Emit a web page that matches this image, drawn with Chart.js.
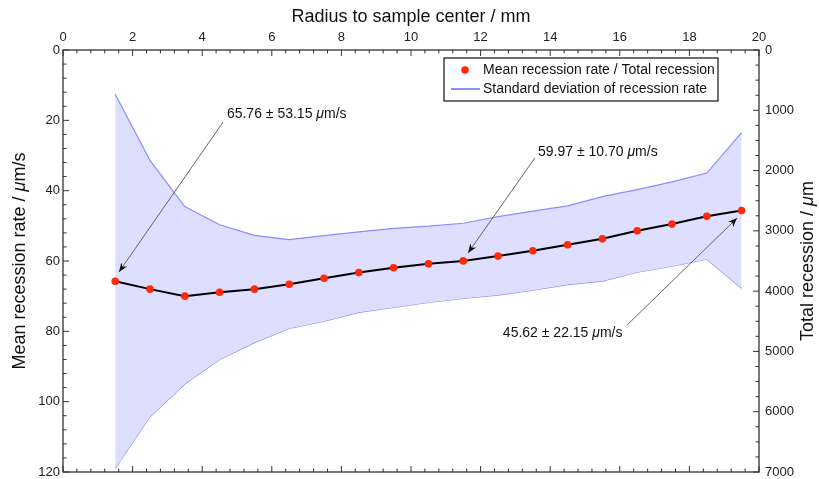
<!DOCTYPE html>
<html>
<head>
<meta charset="utf-8">
<script src="https://cdn.jsdelivr.net/npm/chart.js@4.4.1/dist/chart.umd.min.js"></script>
<style>
  html, body { margin: 0; padding: 0; background: #fff; }
  #wrap { width: 819px; height: 479px; }
</style>
</head>
<body>
<div id="wrap"><canvas id="chart" width="819" height="479"></canvas></div>
<script>
// radius to sample center (mm)
const radius = [1.5, 2.5, 3.5, 4.5, 5.5, 6.5, 7.5, 8.5, 9.5, 10.5, 11.5, 12.5, 13.5, 14.5, 15.5, 16.5, 17.5, 18.5, 19.5];
// mean recession rate (um/s)
const meanRate = [65.76, 68.0, 70.0, 68.9, 68.0, 66.6, 64.9, 63.3, 61.9, 60.8, 59.97, 58.6, 57.1, 55.4, 53.7, 51.4, 49.5, 47.3, 45.62];
// mean - sd and mean + sd
const sdUpper = [12.61, 31.4, 44.5, 49.7, 52.7, 53.9, 52.8, 51.7, 50.7, 50.1, 49.27, 47.4, 45.8, 44.3, 41.7, 39.7, 37.5, 35.0, 23.47];
const sdLower = [118.91, 104.3, 95.0, 88.0, 83.2, 79.2, 77.1, 74.6, 73.2, 71.8, 70.67, 69.7, 68.3, 66.7, 65.7, 63.2, 61.5, 59.5, 67.77];

// annotated points
const noteMean = [65.76, 59.97, 45.62];
const noteSd = [53.15, 10.70, 22.15];

const legendLabels = ["Mean recession rate / Total recession", "Standard deviation of recession rate"];

// annotation placement, in data units (x mm, y um/s)
const noteTextAt = [[4.71, 18.2], [13.65, 29.0], [12.64, 80.5]];
const noteLineFrom = [[4.60, 20.5], [13.56, 30.7], [16.21, 78.2]];
const noteTip = [[1.61, 63.1], [11.64, 57.7], [19.37, 47.8]];

const FONT = "'Liberation Sans', Arial, Helvetica, sans-serif";
const RED = "#ff2a0a";
const BAND_LINE = "#8c8cff";
const BAND_FILL = "rgba(222, 222, 255, 1)";
const AXIS = "#333";

Chart.defaults.font.family = FONT;

function isMajor(v, step) {
  return Math.abs(v / step - Math.round(v / step)) < 1e-6;
}

// draw text made of [text, italic] parts, starting at x
function drawParts(ctx, parts, x, y, size, align) {
  const fontFor = (it) => `${it ? "italic " : ""}${size}px ${FONT}`;
  let total = 0;
  parts.forEach(([t, it]) => {
    ctx.font = fontFor(it);
    total += ctx.measureText(t).width;
  });
  let cx = align === "center" ? x - total / 2 : x;
  ctx.textAlign = "left";
  parts.forEach(([t, it]) => {
    ctx.font = fontFor(it);
    ctx.fillText(t, cx, y);
    cx += ctx.measureText(t).width;
  });
}

function drawArrowHead(ctx, fx, fy, tx, ty) {
  const ang = Math.atan2(ty - fy, tx - fx);
  const len = 9, half = 3.6;
  ctx.save();
  ctx.translate(tx, ty);
  ctx.rotate(ang);
  ctx.beginPath();
  ctx.moveTo(0, 0);
  ctx.lineTo(-len, -half);
  ctx.lineTo(-len * 0.7, 0);
  ctx.lineTo(-len, half);
  ctx.closePath();
  ctx.fillStyle = "#111";
  ctx.fill();
  ctx.restore();
}

const axisChrome = {
  id: "axisChrome",
  afterDatasetsDraw(chart) {
    const { ctx, chartArea: a, scales } = chart;
    const x = scales.x, y = scales.y, y2 = scales.y2;
    ctx.save();

    // frame
    ctx.strokeStyle = AXIS;
    ctx.lineWidth = 1.3;
    ctx.strokeRect(a.left, a.top, a.right - a.left, a.bottom - a.top);

    // inward tick marks
    ctx.lineWidth = 1;
    ctx.beginPath();
    x.ticks.forEach((t) => {
      const px = x.getPixelForValue(t.value);
      const len = isMajor(t.value, 2) ? 6 : 3.5;
      ctx.moveTo(px, a.top); ctx.lineTo(px, a.top + len);
      ctx.moveTo(px, a.bottom); ctx.lineTo(px, a.bottom - len);
    });
    y.ticks.forEach((t) => {
      const py = y.getPixelForValue(t.value);
      const len = isMajor(t.value, 20) ? 6 : 3.5;
      ctx.moveTo(a.left, py); ctx.lineTo(a.left + len, py);
    });
    y2.ticks.forEach((t) => {
      const py = y2.getPixelForValue(t.value);
      const len = isMajor(t.value, 1000) ? 6 : 3.5;
      ctx.moveTo(a.right, py); ctx.lineTo(a.right - len, py);
    });
    ctx.stroke();

    // axis titles
    ctx.fillStyle = "#111";
    ctx.textBaseline = "middle";
    const midY = (a.top + a.bottom) / 2;
    drawParts(ctx, [["Radius to sample center / mm", false]], (a.left + a.right) / 2, 17, 18, "center");
    ctx.save();
    ctx.translate(20, midY);
    ctx.rotate(-Math.PI / 2);
    drawParts(ctx, [["Mean recession rate / ", false], ["\u03bc", true], ["m/s", false]], 0, 0, 18, "center");
    ctx.restore();
    ctx.save();
    ctx.translate(808, midY);
    ctx.rotate(-Math.PI / 2);
    drawParts(ctx, [["Total recession / ", false], ["\u03bc", true], ["m", false]], 0, 0, 18, "center");
    ctx.restore();

    // annotations
    noteMean.forEach((m, i) => {
      const tx = x.getPixelForValue(noteTextAt[i][0]);
      const ty = y.getPixelForValue(noteTextAt[i][1]);
      ctx.fillStyle = "#111";
      drawParts(ctx, [[`${m.toFixed(2)} \u00b1 ${noteSd[i].toFixed(2)} `, false], ["\u03bc", true], ["m/s", false]], tx, ty, 14, "left");
      const fx = x.getPixelForValue(noteLineFrom[i][0]);
      const fy = y.getPixelForValue(noteLineFrom[i][1]);
      const px = x.getPixelForValue(noteTip[i][0]);
      const py = y.getPixelForValue(noteTip[i][1]);
      ctx.strokeStyle = "#555";
      ctx.lineWidth = 0.9;
      ctx.beginPath();
      ctx.moveTo(fx, fy);
      ctx.lineTo(px, py);
      ctx.stroke();
      drawArrowHead(ctx, fx, fy, px, py);
    });

    // legend box
    const lw = 274, lh = 43;
    const lx = a.right - 41 - lw, ly = a.top + 8;
    ctx.fillStyle = "#fff";
    ctx.fillRect(lx, ly, lw, lh);
    ctx.strokeStyle = "#222";
    ctx.lineWidth = 1.3;
    ctx.strokeRect(lx, ly, lw, lh);
    const r1 = ly + 12, r2 = ly + 31;
    ctx.fillStyle = RED;
    ctx.beginPath();
    ctx.arc(lx + 21, r1, 3.8, 0, Math.PI * 2);
    ctx.fill();
    ctx.strokeStyle = BAND_LINE;
    ctx.lineWidth = 2;
    ctx.beginPath();
    ctx.moveTo(lx + 7, r2);
    ctx.lineTo(lx + 36, r2);
    ctx.stroke();
    ctx.fillStyle = "#111";
    drawParts(ctx, [[legendLabels[0], false]], lx + 39, r1, 14, "left");
    drawParts(ctx, [[legendLabels[1], false]], lx + 39, r2, 14, "left");

    ctx.restore();
  },
};

const tickFont = { size: 13 };

function fixWidth(w) {
  return (s) => { s.width = w; s.paddingTop = 0; s.paddingBottom = 0; };
}

new Chart(document.getElementById("chart"), {
  type: "line",
  data: {
    datasets: [
      {
        label: legendLabels[0],
        data: radius.map((r, i) => ({ x: r, y: meanRate[i] })),
        borderColor: "#000",
        borderWidth: 2,
        pointRadius: 3.8,
        pointBackgroundColor: RED,
        pointBorderColor: RED,
        pointBorderWidth: 0,
        tension: 0,
        yAxisID: "y",
      },
      {
        label: legendLabels[1],
        data: radius.map((r, i) => ({ x: r, y: sdUpper[i] })),
        borderColor: BAND_LINE,
        borderWidth: 1.2,
        pointRadius: 0,
        backgroundColor: BAND_FILL,
        fill: "+1",
        tension: 0,
        yAxisID: "y",
      },
      {
        label: "lower",
        data: radius.map((r, i) => ({ x: r, y: sdLower[i] })),
        borderColor: BAND_LINE,
        borderWidth: 1.2,
        pointRadius: 0,
        fill: false,
        tension: 0,
        yAxisID: "y",
      },
    ],
  },
  options: {
    responsive: false,
    animation: false,
    layout: { padding: { left: 0, right: 0, top: 0, bottom: 7 } },
    plugins: {
      legend: { display: false },
      tooltip: { enabled: false },
    },
    scales: {
      x: {
        type: "linear",
        position: "top",
        min: 0,
        max: 20,
        afterFit: (s) => { s.height = 50; s.paddingLeft = 0; s.paddingRight = 0; },
        grid: { display: false, drawTicks: false },
        border: { display: false },
        ticks: {
          stepSize: 0.4,
          autoSkip: false,
          maxRotation: 0,
          minRotation: 0,
          padding: 5,
          color: "#222",
          font: tickFont,
          callback: (v) => (isMajor(v, 2) ? String(Math.round(v)) : ""),
        },
      },
      y: {
        type: "linear",
        position: "left",
        reverse: true,
        min: 0,
        max: 120,
        afterFit: fixWidth(63),
        grid: { display: false, drawTicks: false },
        border: { display: false },
        ticks: {
          stepSize: 4,
          autoSkip: false,
          padding: 3,
          color: "#222",
          font: tickFont,
          callback: (v) => (isMajor(v, 20) ? String(Math.round(v)) : ""),
        },
      },
      y2: {
        type: "linear",
        position: "right",
        reverse: true,
        min: 0,
        max: 7000,
        afterFit: fixWidth(60),
        grid: { display: false, drawTicks: false },
        border: { display: false },
        ticks: {
          stepSize: 250,
          autoSkip: false,
          padding: 6,
          color: "#222",
          font: tickFont,
          callback: (v) => (isMajor(v, 1000) ? String(Math.round(v)) : ""),
        },
      },
    },
  },
  plugins: [axisChrome],
});
</script>
</body>
</html>
